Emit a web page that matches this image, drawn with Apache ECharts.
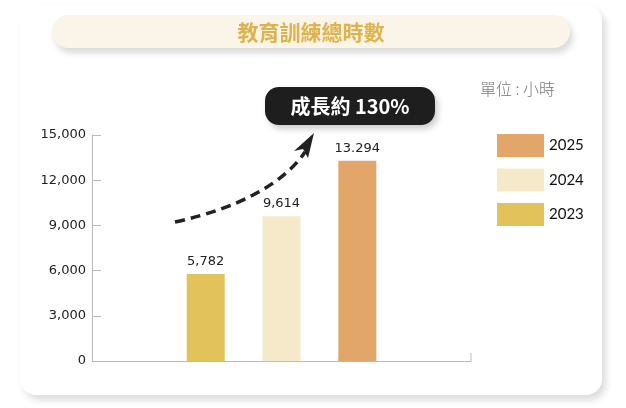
<!DOCTYPE html>
<html><head><meta charset="utf-8">
<script src="https://cdn.jsdelivr.net/npm/echarts@6/dist/echarts.min.js"></script>
<style>html,body{margin:0;padding:0;background:#fff;}#c{width:626px;height:408px;}</style>
</head><body><div id="c"></div>
<script>
const categories = ['', '2023', '2024', '2025', ''];
const seriesNames = ['2025', '2024', '2023'];
const values2023 = [null, 5782, null, null, null];
const values2024 = [null, null, 9614, null, null];
const values2025 = [null, null, null, 13294, null];
const barLabels = ['', '5,782', '9,614', '13.294', ''];
const yTickValues = [0, 3000, 6000, 9000, 12000, 15000];
const yTickLabels = ['0', '3,000', '6,000', '9,000', '12,000', '15,000'];
const titleText = '教育訓練總時數';
const badgeText = '成長約 130%';
const unitText = '單位 : 小時';

const colors = {'2023': '#E2C35B', '2024': '#F6E9CA', '2025': '#E2A66B'};
const G = {left: 92, right: 155, top: 135, bottom: 47};
const chart = echarts.init(document.getElementById('c'));

function barSeries(name, data) {
  return {
    name: name, type: 'bar', data: data, barWidth: 38, barGap: '-100%',
    itemStyle: {color: colors[name]},
    label: {show: true, position: 'top', distance: 6, color: '#222',
      fontFamily: 'DejaVu Sans', fontSize: 13,
      formatter: p => barLabels[p.dataIndex]}
  };
}

const cardFont = '"Noto Sans CJK TC", "Noto Sans", sans-serif';
chart.setOption({
  animation: false,
  grid: {left: G.left, right: G.right, top: G.top, bottom: G.bottom},
  legend: {
    data: seriesNames, orient: 'vertical', left: 492, top: 129,
    itemWidth: 47, itemHeight: 23, itemGap: 11.5, icon: 'rect',
    textStyle: {fontFamily: 'Lato', fontSize: 15, color: '#111'},
    selectedMode: false
  },
  xAxis: {
    type: 'category', data: categories,
    axisLine: {lineStyle: {color: '#bbb', width: 1}},
    axisTick: {show: false}, axisLabel: {show: false}
  },
  yAxis: {
    type: 'value', min: 0, max: 15000, interval: 3000,
    splitLine: {show: false},
    axisLine: {show: true, lineStyle: {color: '#bbb', width: 1}},
    axisTick: {show: true, inside: true, length: 9, lineStyle: {color: '#bbb'}},
    axisLabel: {color: '#222', fontFamily: 'DejaVu Sans', fontSize: 13, margin: 6,
      formatter: v => yTickLabels[yTickValues.indexOf(v)]}
  },
  series: [barSeries('2025', values2025), barSeries('2024', values2024), barSeries('2023', values2023)],
  graphic: [
    {type: 'rect', z: -10, silent: true,
      shape: {x: 20, y: 5, width: 582, height: 390, r: 16},
      style: {fill: '#fff', shadowBlur: 7, shadowOffsetX: 4, shadowOffsetY: 5, shadowColor: 'rgba(0,0,0,0.14)'}},
    {type: 'rect', z: 5, shape: {x: 52, y: 15, width: 518, height: 33, r: 16.5},
      style: {fill: '#FAF5E8', shadowBlur: 6, shadowOffsetX: 3, shadowOffsetY: 5, shadowColor: 'rgba(0,0,0,0.15)'}},
    {type: 'text', z: 6, x: 311, y: 32,
      style: {text: titleText, fill: '#DEB24C', font: 'bold 21px ' + cardFont, align: 'center', verticalAlign: 'middle'}},
    {type: 'text', z: 6, x: 480, y: 89,
      style: {text: unitText, fill: '#7a7a7a', font: '300 16px ' + cardFont, align: 'left', verticalAlign: 'middle'}},
    {type: 'rect', z: 5, shape: {x: 265, y: 87, width: 170, height: 38, r: 14},
      style: {fill: '#1E1E1E', shadowBlur: 6, shadowOffsetX: 3, shadowOffsetY: 4, shadowColor: 'rgba(0,0,0,0.2)'}},
    {type: 'text', z: 6, x: 350, y: 106,
      style: {text: badgeText, fill: '#fff', font: 'bold 20px ' + cardFont, align: 'center', verticalAlign: 'middle'}},
    {type: 'bezierCurve', z: 6,
      shape: {x1: 175, y1: 222, cpx1: 240, cpy1: 208, cpx2: 285, cpy2: 182, x2: 305, y2: 152},
      style: {stroke: '#222', lineWidth: 3.5, fill: null, lineDash: [10, 6]}},
    {type: 'polygon', z: 6,
      shape: {points: [[314, 133], [308, 158], [303, 149], [294, 151]]},
      style: {fill: '#222'}},
    {type: 'line', z: 6, shape: {x1: 471, y1: 361, x2: 471, y2: 353},
      style: {stroke: '#bbb', lineWidth: 1}}
  ]
});
</script></body></html>
